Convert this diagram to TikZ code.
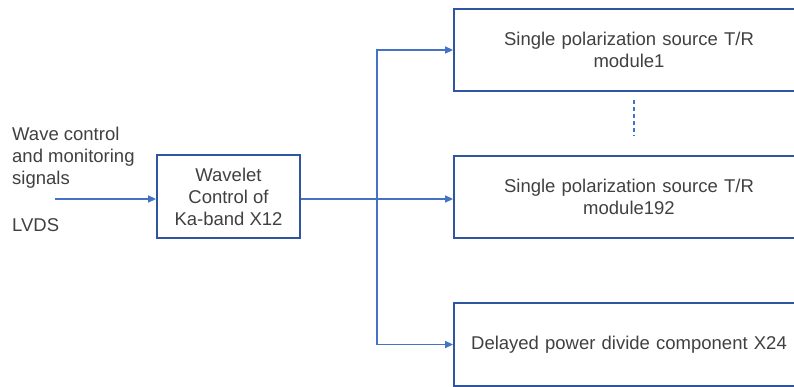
\documentclass[tikz,border=0pt]{standalone}
\usepackage{fontspec}
\setmainfont{Liberation Sans}
\usetikzlibrary{arrows.meta}
\definecolor{boxblue}{HTML}{2F55A0}
\definecolor{lineblue}{HTML}{4472C4}
\definecolor{txt}{HTML}{404040}
\begin{document}
\begin{tikzpicture}[x=1pt,y=-1pt,
  every node/.style={text=txt,font=\fontsize{18.5}{22}\selectfont},
  blk/.style={draw=boxblue,line width=1.8pt,align=center,inner sep=0pt},
  conn/.style={draw=lineblue,line width=1.3pt,-{Triangle[length=8pt,width=7pt]}},
  plain/.style={draw=lineblue,line width=1.3pt}]
\useasboundingbox (0,0) rectangle (794,387);
\clip (0,0) rectangle (794,387);
\node[blk,minimum width=143pt,minimum height=83pt] (main) at (228.5,196.5) {Wavelet\\Control of\\Ka-band X12};
\node[blk,minimum width=350pt,minimum height=82pt,text width=340pt] (m1) at (629,50) {Single polarization source T/R\\module1};
\node[blk,minimum width=350pt,minimum height=82pt,text width=340pt] (m2) at (629,197) {Single polarization source T/R\\module192};
\node[blk,minimum width=350pt,minimum height=83pt,text width=340pt] (dp) at (629,344.5) {Delayed power divide component X24};
\node[anchor=north west,align=left,inner sep=0pt] (sig) at (12,127) {Wave control\\and monitoring\\signals};
\node[anchor=west,inner sep=0pt] (lvds) at (12,225) {LVDS};
\coordinate (inp) at (55,199);
\coordinate (tr) at (377,199);
\coordinate (d1) at (634,100);
\coordinate (d2) at (634,136);
\draw[conn] (inp) -- (inp -| main.west);
\draw[plain] (main.east |- tr) -- (tr);
\draw[conn] (tr) |- (m1.west);
\draw[conn] (tr) -- (tr -| m2.west);
\draw[conn] (tr) |- (dp.west);
\draw[plain,dash pattern=on 4pt off 3pt,line width=1.2pt] (d1) -- (d2);
\end{tikzpicture}
\end{document}
